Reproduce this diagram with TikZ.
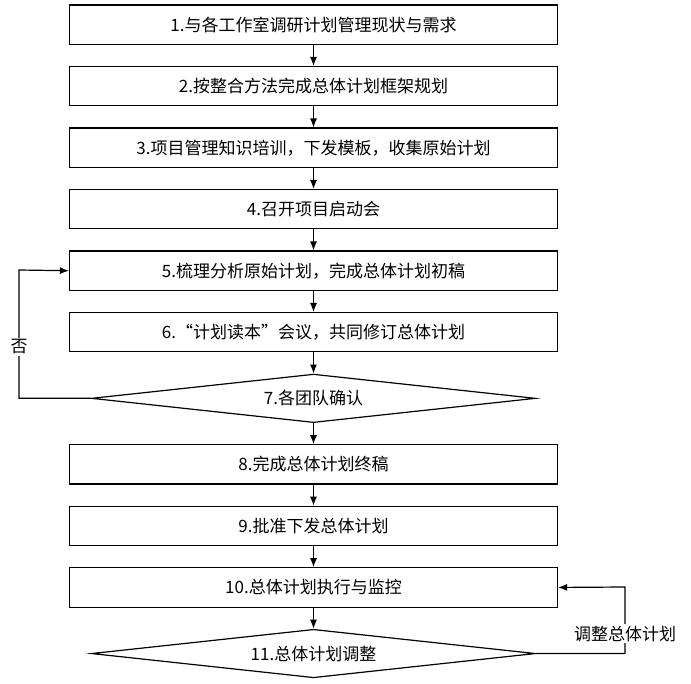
\documentclass[tikz,border=0pt]{standalone}
\usepackage{fontspec}
\newfontfamily\cjk{Noto Sans CJK SC}
\usetikzlibrary{arrows.meta}
\usetikzlibrary{positioning}
\usetikzlibrary{shapes.geometric}

\begin{document}
\begin{tikzpicture}[x=1pt,y=1pt,line width=1.2pt,>={Latex[length=9pt,width=7pt]},
        node distance=21pt,
        stepbox/.style={draw,minimum width=488pt,minimum height=39.3pt,inner sep=0pt,font=\cjk\fontsize{17}{20}\selectfont},
        check/.style={draw,diamond,aspect=8.9,minimum width=444pt,minimum height=48.5pt,inner sep=0pt,font=\cjk\fontsize{17}{20}\selectfont},
        tag/.style={fill=white,inner sep=1.5pt,font=\cjk\fontsize{17}{20}\selectfont}]
        \useasboundingbox (0,0) rectangle (691,-684);
        \node[stepbox] (s1) at (313.5,-24.75) {1.与各工作室调研计划管理现状与需求};
        \node[stepbox, below=of s1] (s2) {2.按整合方法完成总体计划框架规划};
        \node[stepbox, below=of s2] (s3) {3.项目管理知识培训，下发模板，收集原始计划};
        \node[stepbox, below=of s3] (s4) {4.召开项目启动会};
        \node[stepbox, below=of s4] (s5) {5.梳理分析原始计划，完成总体计划初稿};
        \node[stepbox, below=of s5] (s6) {6.“计划读本”会议，共同修订总体计划};
        \node[check, below=of s6] (d7) {7.各团队确认};
        \node[stepbox, below=of d7] (s8) {8.完成总体计划终稿};
        \node[stepbox, below=of s8] (s9) {9.批准下发总体计划};
        \node[stepbox, below=of s9] (s10) {10.总体计划执行与监控};
        \node[check, below=of s10] (d11) {11.总体计划调整};
        \coordinate (lft) at (19,-270);
        \coordinate (rgt) at (625,-587);

        \draw[->] (s1) -- (s2);
        \draw[->] (s2) -- (s3);
        \draw[->] (s3) -- (s4);
        \draw[->] (s4) -- (s5);
        \draw[->] (s5) -- (s6);
        \draw[->] (s6) -- (d7);
        \draw[->] (d7) -- (s8);
        \draw[->] (s8) -- (s9);
        \draw[->] (s9) -- (s10);
        \draw[->] (s10) -- (d11);
        % feedback loops
        \draw[->] (d7.west) -| node[tag, pos=0.7] (no) {否} (lft) -- (s5.west);
        \draw[->] (d11.east) -| node[tag, pos=0.65] (adj) {调整总体计划} (rgt) -- (s10.east);
\end{tikzpicture}
\end{document}
